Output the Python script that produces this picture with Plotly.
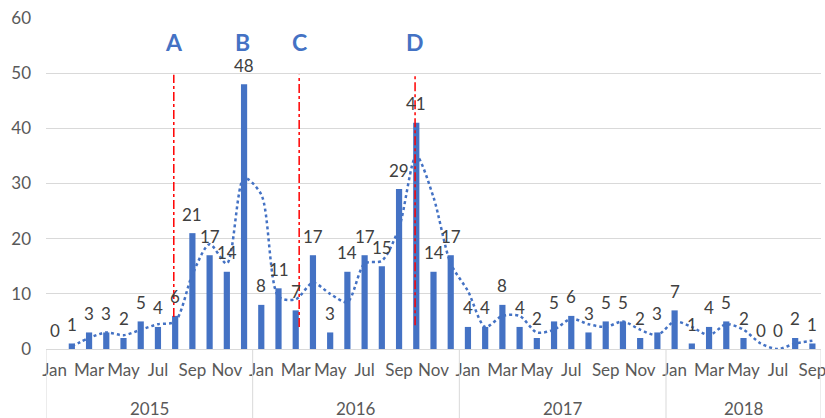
import plotly.graph_objects as go
import pandas as pd

# ---- data ----
months = ["Jan", "Feb", "Mar", "Apr", "May", "Jun", "Jul", "Aug", "Sep", "Oct", "Nov", "Dec"]
years = ["2015", "2016", "2017", "2018"]
months_per_year = [12, 12, 12, 9]
counts = [0, 1, 3, 3, 2, 5, 4, 6, 21, 17, 14, 48,
          8, 11, 7, 17, 3, 14, 17, 15, 29, 41, 14, 17,
          4, 4, 8, 4, 2, 5, 6, 3, 5, 5, 2, 3,
          7, 1, 4, 5, 2, 0, 0, 2, 1]
event_labels = ["A", "B", "C", "D"]
event_x = [6.92, 10.93, 14.2, 20.93]
event_line_shown = [True, False, True, True]
event_line_top = 49.7
event_line_bottom = [5.8, None, 4.0, 4.3]
event_label_y = 55.6
ma_period = 2

# ---- derived ----
month_labels = []
for n in months_per_year:
    month_labels += months[:n]
x = list(range(len(counts)))
trend = pd.Series(counts).rolling(ma_period).mean()

BLUE = "#4472C4"
TXT = "#404040"
AX = "#595959"
FONT = "Lato"

fig = go.Figure()
fig.add_trace(go.Bar(x=x, y=counts, marker_color=BLUE, marker_line_width=0,
                     width=0.36, showlegend=False))
fig.add_trace(go.Scatter(x=x[ma_period - 1:], y=trend[ma_period - 1:].tolist(),
                         mode="lines", line=dict(color=BLUE, width=2.5, dash="dot",
                                                 shape="spline", smoothing=0.8),
                         showlegend=False))

annotations = []
for xi, v in zip(x, counts):
    annotations.append(dict(x=xi, y=v, text=str(v), showarrow=False, yshift=19,
                            font=dict(size=17, color=TXT, family=FONT)))
for lab, ex in zip(event_labels, event_x):
    annotations.append(dict(x=ex, y=event_label_y, text="<b>%s</b>" % lab, showarrow=False,
                            font=dict(size=23, color=BLUE, family=FONT)))

shapes = []
for shown, ex, yb in zip(event_line_shown, event_x, event_line_bottom):
    if shown:
        shapes.append(dict(type="line", x0=ex, x1=ex, y0=yb, y1=event_line_top,
                           xref="x", yref="y", line=dict(color="#FF0000", width=1.5, dash="dashdot")))

# year group separators and labels
start = 0
bounds = [-0.5]
for yr, n in zip(years, months_per_year):
    annotations.append(dict(x=start + (n - 1) / 2, y=0, yref="paper", yanchor="middle",
                            yshift=-59, text=yr, showarrow=False,
                            font=dict(size=17, color=AX, family=FONT)))
    start += n
    bounds.append(start - 0.5)
for b in bounds:
    shapes.append(dict(type="line", x0=b, x1=b, y0=0, y1=-0.215, xref="x", yref="paper",
                       line=dict(color="#D9D9D9", width=1)))

fig.update_layout(
    width=825, height=418,
    margin=dict(l=46, r=4, t=18, b=69, autoexpand=False),
    paper_bgcolor="white", plot_bgcolor="white",
    font=dict(family=FONT, size=17, color=AX),
    annotations=annotations, shapes=shapes,
    xaxis=dict(range=[-0.5, len(counts) - 0.5], tickmode="array",
               tickvals=x[::2], ticktext=month_labels[::2],
               showgrid=False, showline=True, linecolor="#D9D9D9", linewidth=1,
               ticks="", zeroline=False, ticklabeloverflow="allow", ticklabelstandoff=6,
               tickfont=dict(size=17, color=AX)),
    yaxis=dict(range=[0, 60], dtick=10, showgrid=True, gridcolor="#D9D9D9", gridwidth=1,
               zeroline=False, showline=False, ticks="", ticklabelstandoff=14,
               tickfont=dict(size=17, color=AX)),
)

fig.write_html("out.html", config={"displayModeBar": False},
               post_script="document.body.style.margin='0';document.body.style.overflow='hidden';")
